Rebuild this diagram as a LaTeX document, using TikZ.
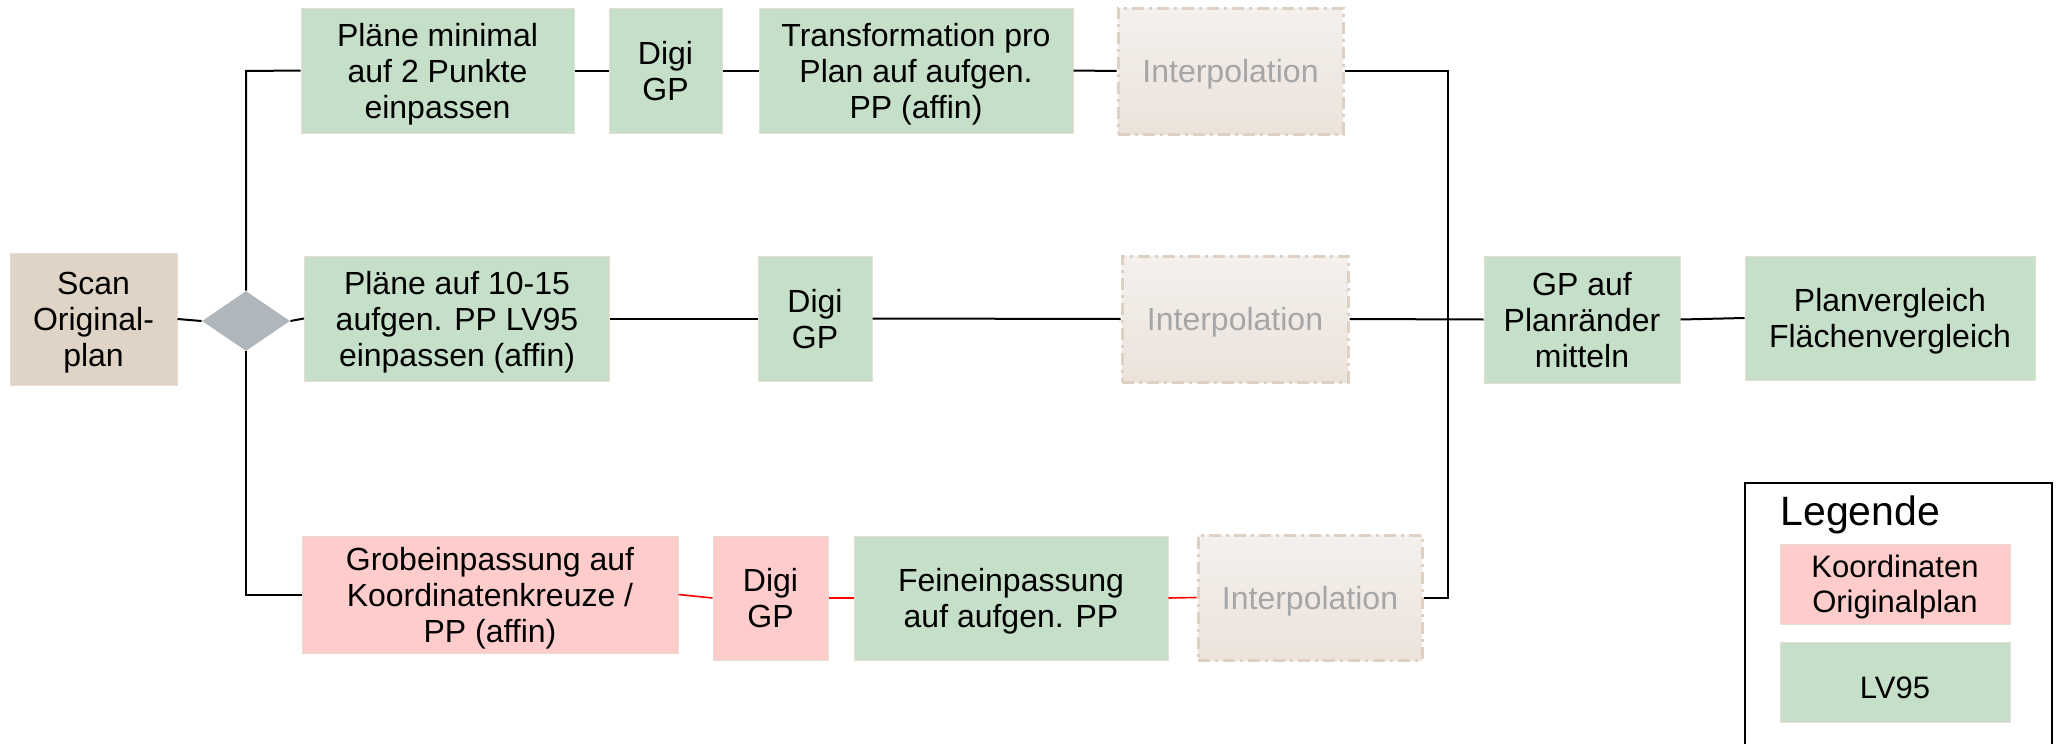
\documentclass[tikz,border=0pt]{standalone}
\usepackage{fontspec}
\setmainfont{Liberation Sans}
\usetikzlibrary{shapes.geometric}

\definecolor{lvgreen}{RGB}{197,223,200}
\definecolor{origpink}{RGB}{255,204,204}
\definecolor{scanbeige}{RGB}{224,212,199}
\definecolor{boxedge}{RGB}{232,221,210}
\definecolor{gatefill}{RGB}{176,183,188}
\definecolor{interptop}{RGB}{244,240,237}
\definecolor{interpbot}{RGB}{236,227,219}
\definecolor{interpedge}{RGB}{222,208,195}
\definecolor{interptext}{RGB}{166,166,166}
\definecolor{redlink}{RGB}{255,0,0}

\tikzset{
  px/.style={x=0.5pt,y=-0.5pt},
  basebox/.style={rectangle, draw=boxedge, line width=0.5pt, inner sep=0pt,
    align=center, text depth=0pt, font=\fontsize{16pt}{18pt}\selectfont, text=black},
  lvbox/.style={basebox, fill=lvgreen},
  origbox/.style={basebox, fill=origpink},
  scanbox/.style={basebox, fill=scanbeige},
  interpbox/.style={rectangle, inner sep=0pt, align=center, text depth=0pt,
    top color=interptop, bottom color=interpbot,
    draw=interpedge, line width=1.5pt,
    dash pattern=on 6pt off 2.5pt on 1.5pt off 2.5pt,
    font=\fontsize{16pt}{18pt}\selectfont, text=interptext},
  gate/.style={diamond, fill=gatefill, draw=none, inner sep=0pt},
  link/.style={draw=black, line width=1pt},
  redl/.style={draw=redlink, line width=0.8pt},
  sz/.style n args={2}{minimum width=#1*0.5pt, minimum height=#2*0.5pt},
  legbox/.style={basebox, font=\fontsize{15.5pt}{17.5pt}\selectfont}
}

\begin{document}
\begin{tikzpicture}[px]
\useasboundingbox (0,0) rectangle (2058,744);

% start and branching gate
\node[scanbox, sz={167}{132}] (scan) at (93.5,319) {Scan\\Original-\\plan};
\node[gate, sz={88}{60}] (gate) at (246,321) {};

% upper branch
\node[lvbox, sz={273}{125}] (p1) at (437.5,70.5) {Pläne minimal\\auf 2 Punkte\\einpassen};
\node[lvbox, sz={113}{125}] (d1) at (665.5,70.5) {Digi\\GP};
\node[lvbox, sz={314}{125}] (t1) at (916,70.5) {Transformation pro\\Plan auf aufgen.\\PP (affin)};
\node[interpbox, sz={225}{126}] (i1) at (1230.5,71) {Interpolation};

% middle branch
\node[lvbox, sz={305}{125}] (p2) at (457,318.5) {Pläne auf 10-15\\aufgen. PP LV95\\einpassen (affin)};
\node[lvbox, sz={114}{125}] (d2) at (815,318.5) {Digi\\GP};
\node[interpbox, sz={226}{126}] (i2) at (1235,319) {Interpolation};
\node[lvbox, sz={196}{127}] (gp) at (1582,319.5) {GP auf\\Planränder\\mitteln};
\node[lvbox, sz={290}{124}] (pv) at (1890,318) {Planvergleich\\Flächenvergleich};

% lower branch
\node[origbox, sz={376}{117}] (g3) at (490,594.5) {Grobeinpassung auf\\Koordinatenkreuze /\\PP (affin)};
\node[origbox, sz={115}{124}] (d3) at (770.5,598) {Digi\\GP};
\node[lvbox, sz={314}{124}] (f3) at (1011,598) {Feineinpassung\\auf aufgen. PP};
\node[interpbox, sz={224}{125}] (i3) at (1310,597.5) {Interpolation};

% bend points of the branch lines
\coordinate (ltop) at (246,71);
\coordinate (lbot) at (246,594.5);
\coordinate (rtop) at (1448,71);
\coordinate (rbot) at (1448,597.5);

% connectors
\draw[link] (scan.east) -- (gate.west);
\draw[link] (gate.east) -- (p2.west);
\draw[link] (gate.north) -- (ltop) -- (p1.west);
\draw[link] (gate.south) -- (lbot) -- (g3.west);

\draw[link] (p1.east) -- (d1.west);
\draw[link] (d1.east) -- (t1.west);
\draw[link] (t1.east) -- (i1.west);

\draw[link] (p2.east) -- (d2.west);
\draw[link] (d2.east) -- (i2.west);
\draw[link] (i2.east) -- (gp.west);
\draw[link] (gp.east) -- (pv.west);

\draw[redl] (g3.east) -- (d3.west);
\draw[redl] (d3.east) -- (f3.west);
\draw[redl] (f3.east) -- (i3.west);

\draw[link] (i1.east) -- (rtop) -- (rbot) -- (i3.east);

% legend
\draw[line width=1pt] (1745,750) -- (1745,483) -- (2052,483) -- (2052,750);
\node[anchor=west, font=\fontsize{20.5pt}{22pt}\selectfont, inner sep=0pt] (legtitle) at (1780,515) {Legende};
\node[legbox, fill=origpink, sz={230}{80}] (legorig) at (1895,584) {Koordinaten\\Originalplan};
\node[legbox, fill=lvgreen, sz={230}{80}, text height=16pt] (leglv) at (1895,682) {LV95};
\end{tikzpicture}
\end{document}
